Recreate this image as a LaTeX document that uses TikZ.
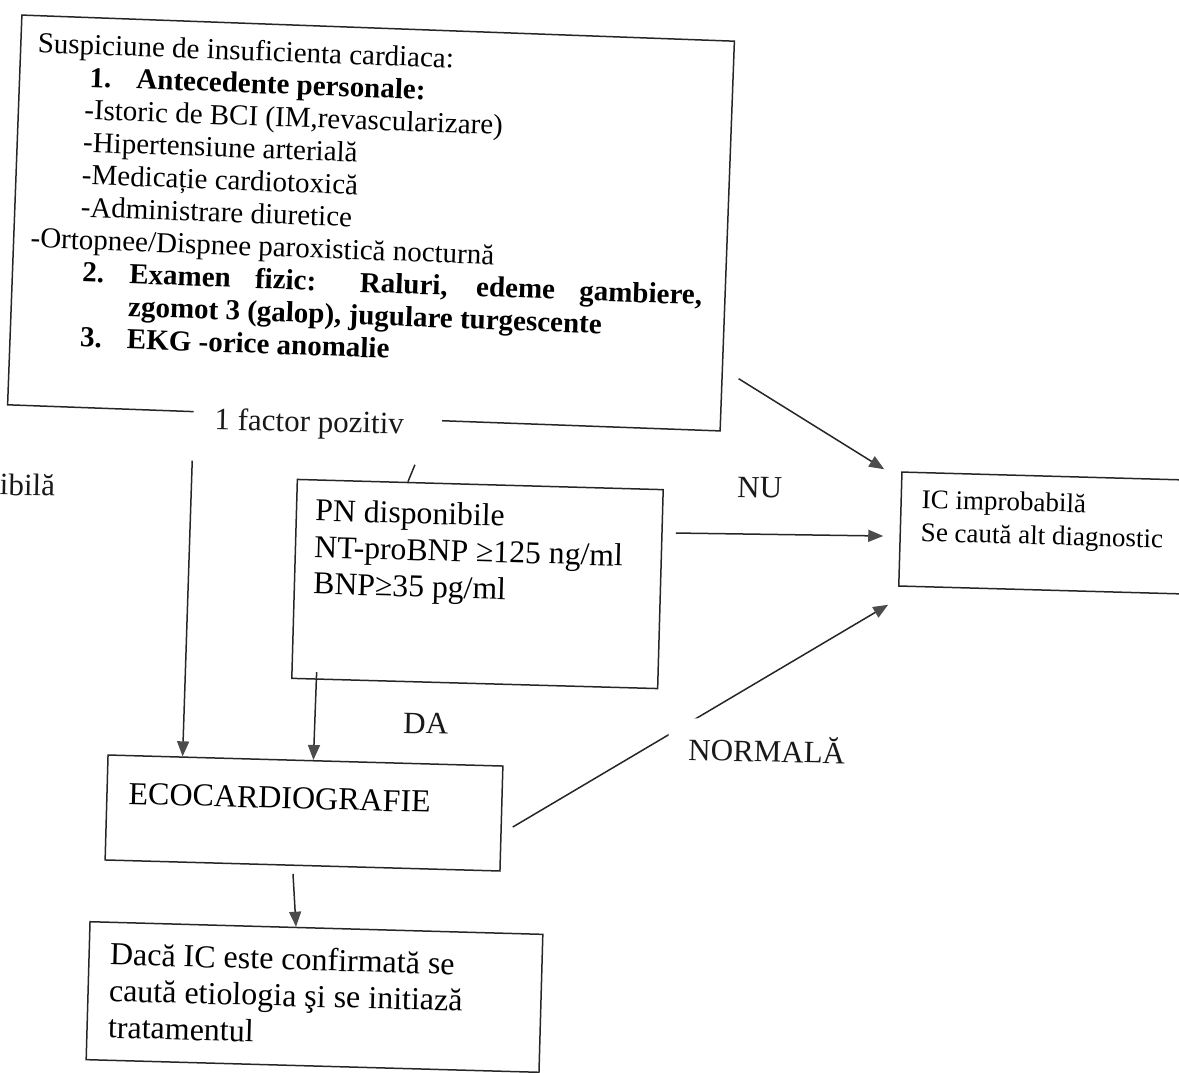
\documentclass[tikz,border=0pt]{standalone}
\usepackage{fontspec}
\setmainfont{Liberation Serif}
\usetikzlibrary{calc,arrows.meta}
\newcommand\fsz[2]{\fontsize{#1}{#2}\selectfont}
\begin{document}
\begin{tikzpicture}[x=1pt,y=-1pt,
  boxbase/.style={draw=black!85,line width=1.5pt,inner sep=0pt},
  ln/.style={draw=black!85,line width=1.5pt},
  arr/.style={ln,-{Triangle[length=15pt,width=12pt,color=black!70]}},
  lbl/.style={font=\fsz{31}{36},inner sep=0pt,rotate=-1.2,text=black!90}]
\path[use as bounding box] (0,0) rectangle (1179,1073);
\clip (0,0) rectangle (1179,1073);

% ---------- boxes ----------
\node[boxbase,rotate=-2.1] (top) at (371,223) {\parbox[c][390pt][t]{713pt}{\fsz{29}{32.5}\raggedright
\rule{0pt}{37pt}\hspace*{17pt}Suspiciune de insuficienta cardiaca:\\
\hspace*{70pt}\makebox[47pt][l]{\bfseries 1.}\textbf{Antecedente personale:}\\
\hspace*{66pt}-Istoric de BCI (IM,revascularizare)\\
\hspace*{66pt}-Hipertensiune arterială\\
\hspace*{66pt}-Medicație cardiotoxică\\
\hspace*{66pt}-Administrare diuretice\\
\hspace*{17pt}-Ortopnee/Dispnee paroxistică nocturnă\\
\hspace*{70pt}\makebox[47pt][l]{\bfseries 2.}\makebox[573pt][s]{\bfseries Examen fizic: Raluri, edeme gambiere,}\\
\hspace*{117pt}\textbf{zgomot 3 (galop), jugulare turgescente}\\
\hspace*{70pt}\makebox[47pt][l]{\bfseries 3.}\textbf{EKG -orice anomalie}}};

\node[boxbase,rotate=-1.6] (pn) at (477.5,584) {\parbox[c][199pt][t]{366pt}{\fsz{31.7}{36.5}\raggedright\leftskip=19pt\relax
\rule{0pt}{41pt}PN disponibile\\NT-proBNP ≥125 ng/ml\\BNP≥35 pg/ml}};

\node[boxbase,rotate=-1.6] (eco) at (304,813) {\parbox[c][105pt][t]{395pt}{\fsz{32}{37}\raggedright\leftskip=21.7pt\relax
\rule{0pt}{48.4pt}ECOCARDIOGRAFIE}};

\node[boxbase,rotate=-1.6] (bot) at (314.5,997) {\parbox[c][138pt][t]{453pt}{\fsz{32}{36.5}\raggedright\leftskip=21pt\relax
\rule{0pt}{42.5pt}Dacă IC este confirmată se\\caută etiologia şi se initiază\\tratamentul}};

\node[boxbase,rotate=-1.6] (ic) at (1060.3,533.5) {\parbox[c][114pt][t]{320pt}{\fsz{27}{33}\raggedright\leftskip=20.7pt\relax
\rule{0pt}{35.5pt}IC improbabilă\\Se caută alt diagnostic}};

% ---------- connector end points ----------
\coordinate (pnin) at ($(pn.north west)!0.303!(pn.north east)$);
\coordinate (ecoinA) at ($(eco.north west)!0.19!(eco.north east)$);
\coordinate (ecoinB) at ($(eco.north west)!0.52!(eco.north east)$);
\coordinate (ecoout) at ($(eco.south west)!0.476!(eco.south east)+(0,8)$);
\coordinate (botin) at ($(bot.north west)!0.455!(bot.north east)$);

% ---------- connectors ----------
\draw[ln] ($(pnin)+(7,-17)$) -- (pnin);
\draw[arr] ($(top.south west)+(185.4,55.2)$) -- (ecoinA);
\draw[arr] ($(pn.south west)+(25.6,-6.9)$) -- (ecoinB);
\draw[arr] (ecoout) -- (botin);
\draw[arr] ($(top.south east)+(17.8,-53)$) -- ($(ic.north west)+(-17,-2)$);
\draw[arr] ($(pn.east)+(14.6,-56.1)$) -- ($(ic.west)+(-16.4,7)$);
\draw[arr] ($(eco.east)+(10.6,8.5)$) -- ($(ic.south west)+(-9.8,18)$);

% ---------- labels ----------
\node[lbl,fill=white,inner xsep=21pt,inner ysep=4pt,anchor=base] (fp) at (317.5,432) {1 factor pozitiv\hspace*{17pt}};
\node[lbl,anchor=base west] (nu) at (737,497) {NU};
\node[lbl,anchor=base west] (da) at (403,733) {DA};
\node[lbl,fill=white,inner xsep=20pt,inner ysep=16pt,anchor=base west] (norm) at (668,760) {NORMALĂ};
\node[lbl,anchor=base east] (ib) at (55,496) {ibilă};
\end{tikzpicture}
\end{document}
